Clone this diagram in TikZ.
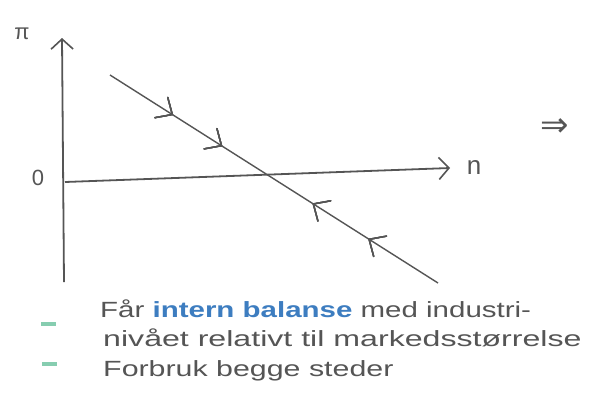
\documentclass[tikz,border=0pt]{standalone}
\usepackage{fontspec}
\setmainfont{Liberation Sans}
\newfontfamily\symfont{DejaVu Sans}
\usetikzlibrary{arrows.meta,decorations.markings}
\definecolor{ink}{HTML}{555555}
\definecolor{blueink}{HTML}{3D7DC0}
\definecolor{greenink}{HTML}{86CDB0}
\tikzset{
  axisline/.style={ink, line width=1.8pt, -{Straight Barb[length=10pt,width=22pt,line width=1.6pt]}},
  curveline/.style={ink, line width=1.4pt},
  fwd/.style={decoration={markings, mark=at position #1 with {\draw[ink,line width=1.4pt,line cap=round] (-13pt,12pt) -- (0pt,0pt) -- (-13pt,-12pt);}}, postaction={decorate}},
  bwd/.style={decoration={markings, mark=at position #1 with {\draw[ink,line width=1.4pt,line cap=round] (13pt,12pt) -- (0pt,0pt) -- (13pt,-12pt);}}, postaction={decorate}},
  lbl/.style={ink, font=\fontsize{22}{24}\selectfont},
  note/.style={ink, anchor=base west, inner sep=0pt, font=\fontsize{22}{24}\selectfont},
  bullet/.style={greenink, line width=3.5pt}
}
\begin{document}
\begin{tikzpicture}[x=1pt,y=-1pt]
\useasboundingbox (0,0) rectangle (596,405);
\fill[white] (0,0) rectangle (596,405);
% axes
\coordinate (ybot) at (64,282);
\coordinate (ytop) at (62,38);
\coordinate (xl) at (65,182);
\coordinate (xr) at (450,168);
\draw[axisline] (ybot) -- (ytop);
\draw[axisline] (xl) -- (xr);
% diagonal line
\coordinate (ds) at (110,75);
\coordinate (de) at (438,283);
\draw[curveline, fwd=0.19, fwd=0.34, bwd=0.62, bwd=0.79] (ds) -- (de);
% labels
\node[lbl] (pi) at (22,34) {π};
\node[lbl] (zero) at (38,178) {0};
\node[lbl, font=\fontsize{26}{28}\selectfont] (n) at (474,167) {n};
\node[lbl, font=\symfont\fontsize{34}{36}\selectfont] (impl) at (555,128) {⇒};
% notes
\draw[bullet] (41,324) -- (56,324);
\draw[bullet] (42,364) -- (57,364);
\node[note] (l1) at (100,317) {\scalebox{1.34}[1]{Får \textcolor{blueink}{\bfseries intern balanse} med industri-}};
\node[note] (l2) at (103,346) {\scalebox{1.46}[1]{nivået relativt til markedsstørrelse}};
\node[note] (l3) at (103,376) {\scalebox{1.38}[1]{Forbruk begge steder}};
\end{tikzpicture}
\end{document}
